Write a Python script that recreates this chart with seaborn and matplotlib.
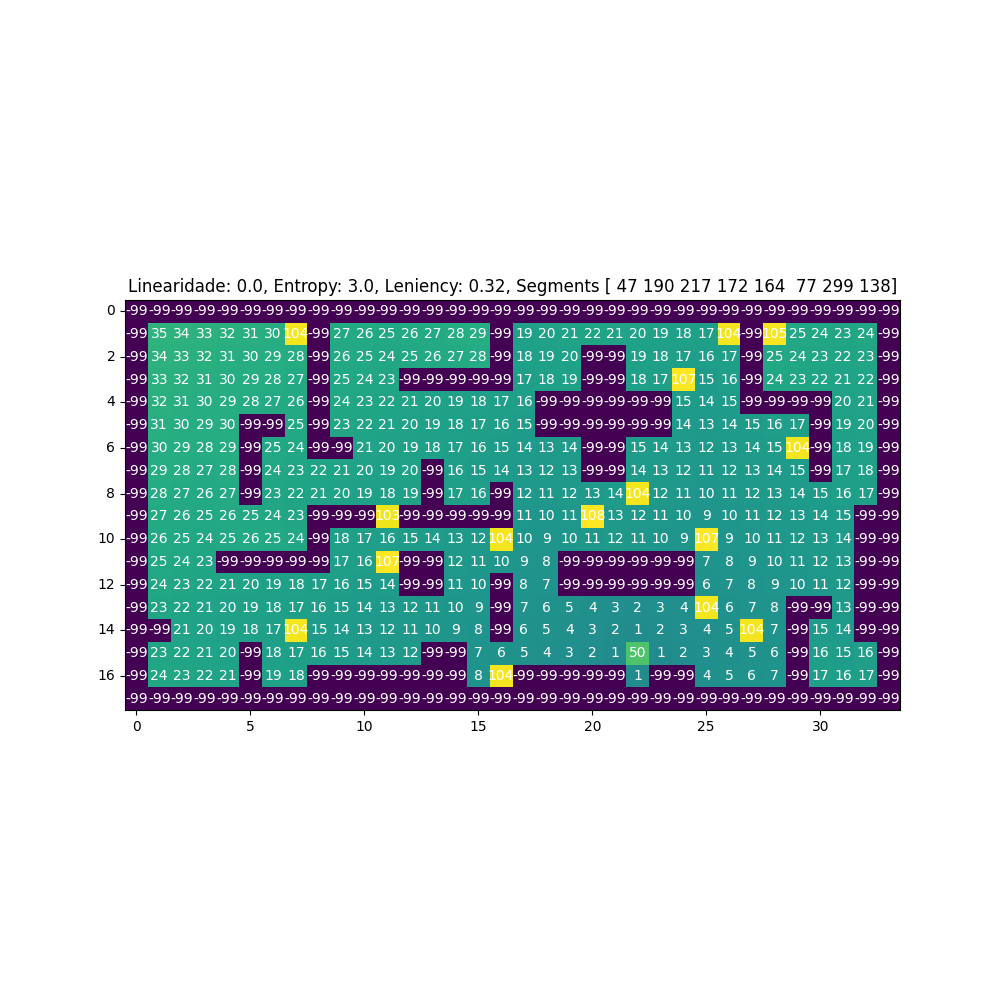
import numpy as np
import matplotlib
matplotlib.use("Agg")
import matplotlib.pyplot as plt
import seaborn as sns

W = -99  # wall value

# level grid, one list per row
row00 = [W] * 34
row01 = [W, 35, 34, 33, 32, 31, 30, 104, W, 27, 26, 25, 26, 27, 28, 29, W,
         19, 20, 21, 22, 21, 20, 19, 18, 17, 104, W, 105, 25, 24, 23, 24, W]
row02 = [W, 34, 33, 32, 31, 30, 29, 28, W, 26, 25, 24, 25, 26, 27, 28, W,
         18, 19, 20, W, W, 19, 18, 17, 16, 17, W, 25, 24, 23, 22, 23, W]
row03 = [W, 33, 32, 31, 30, 29, 28, 27, W, 25, 24, 23, W, W, W, W, W,
         17, 18, 19, W, W, 18, 17, 107, 15, 16, W, 24, 23, 22, 21, 22, W]
row04 = [W, 32, 31, 30, 29, 28, 27, 26, W, 24, 23, 22, 21, 20, 19, 18, 17,
         16, W, W, W, W, W, W, 15, 14, 15, W, W, W, W, 20, 21, W]
row05 = [W, 31, 30, 29, 30, W, W, 25, W, 23, 22, 21, 20, 19, 18, 17, 16,
         15, W, W, W, W, W, W, 14, 13, 14, 15, 16, 17, W, 19, 20, W]
row06 = [W, 30, 29, 28, 29, W, 25, 24, W, W, 21, 20, 19, 18, 17, 16, 15,
         14, 13, 14, W, W, 15, 14, 13, 12, 13, 14, 15, 104, W, 18, 19, W]
row07 = [W, 29, 28, 27, 28, W, 24, 23, 22, 21, 20, 19, 20, W, 16, 15, 14,
         13, 12, 13, W, W, 14, 13, 12, 11, 12, 13, 14, 15, W, 17, 18, W]
row08 = [W, 28, 27, 26, 27, W, 23, 22, 21, 20, 19, 18, 19, W, 17, 16, W,
         12, 11, 12, 13, 14, 104, 12, 11, 10, 11, 12, 13, 14, 15, 16, 17, W]
row09 = [W, 27, 26, 25, 26, 25, 24, 23, W, W, W, 103, W, W, W, W, W,
         11, 10, 11, 108, 13, 12, 11, 10, 9, 10, 11, 12, 13, 14, 15, W, W]
row10 = [W, 26, 25, 24, 25, 26, 25, 24, W, 18, 17, 16, 15, 14, 13, 12, 104,
         10, 9, 10, 11, 12, 11, 10, 9, 107, 9, 10, 11, 12, 13, 14, W, W]
row11 = [W, 25, 24, 23, W, W, W, W, W, 17, 16, 107, W, W, 12, 11, 10,
         9, 8, W, W, W, W, W, W, 7, 8, 9, 10, 11, 12, 13, W, W]
row12 = [W, 24, 23, 22, 21, 20, 19, 18, 17, 16, 15, 14, W, W, 11, 10, W,
         8, 7, W, W, W, W, W, W, 6, 7, 8, 9, 10, 11, 12, W, W]
row13 = [W, 23, 22, 21, 20, 19, 18, 17, 16, 15, 14, 13, 12, 11, 10, 9, W,
         7, 6, 5, 4, 3, 2, 3, 4, 104, 6, 7, 8, W, W, 13, W, W]
row14 = [W, W, 21, 20, 19, 18, 17, 104, 15, 14, 13, 12, 11, 10, 9, 8, W,
         6, 5, 4, 3, 2, 1, 2, 3, 4, 5, 104, 7, W, 15, 14, W, W]
row15 = [W, 23, 22, 21, 20, W, 18, 17, 16, 15, 14, 13, 12, W, W, 7, 6,
         5, 4, 3, 2, 1, 50, 1, 2, 3, 4, 5, 6, W, 16, 15, 16, W]
row16 = [W, 24, 23, 22, 21, W, 19, 18, W, W, W, W, W, W, W, 8, 104,
         W, W, W, W, W, 1, W, W, 4, 5, 6, 7, W, 17, 16, 17, W]
row17 = [W] * 34

segments = [47, 190, 217, 172, 164, 77, 299, 138]
title = ("Linearidade: 0.0, Entropy: 3.0, Leniency: 0.32, Segments "
         "[ 47 190 217 172 164  77 299 138]")

grid = np.array([row00, row01, row02, row03, row04, row05, row06, row07, row08,
                 row09, row10, row11, row12, row13, row14, row15, row16, row17])
n_rows, n_cols = grid.shape

fig, ax = plt.subplots(figsize=(10, 10), dpi=100)
sns.heatmap(grid, ax=ax, cmap="viridis", cbar=False, annot=True, fmt="d",
            annot_kws={"color": "white", "fontsize": 10}, square=True)

# imshow-like ticks and frame
xt = np.arange(0, n_cols, 5)
yt = np.arange(0, n_rows, 2)
ax.set_xticks(xt + 0.5)
ax.set_xticklabels([str(v) for v in xt], rotation=0)
ax.set_yticks(yt + 0.5)
ax.set_yticklabels([str(v) for v in yt], rotation=0)
for s in ax.spines.values():
    s.set_visible(True)
ax.set_title(title)
ax.set_position([0.125, 0.11, 0.775, 0.77])

plt.savefig("out.png")
